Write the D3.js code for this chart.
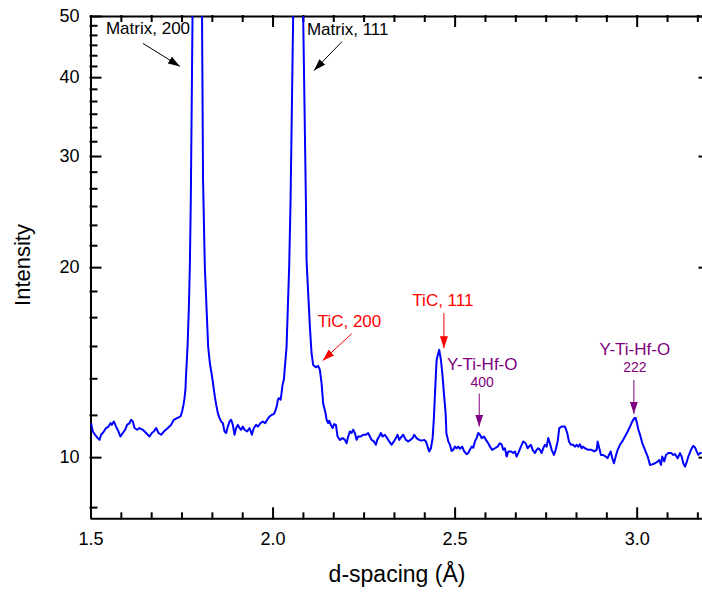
<!DOCTYPE html>
<html>
<head>
<meta charset="utf-8">
<script src="https://cdn.jsdelivr.net/npm/d3@7"></script>
<style>
  body { margin: 0; background: #fff; }
  svg { display: block; font-family: Arial, "Liberation Sans", sans-serif; }
  .axis path, .axis line { stroke: #000; stroke-width: 2px; }
  .axis text { font-size: 18px; fill: #000; font-family: Arial, "Liberation Sans", sans-serif; }
</style>
</head>
<body>
<svg id="chart" width="702" height="593"></svg>
<script>
// d-spacing (Å)
const dSpacing = [
  1.5016, 1.5063, 1.5126, 1.5201, 1.5247, 1.5291, 1.5365, 1.5429, 1.5495, 1.5549,
  1.5585, 1.5640, 1.5703, 1.5769, 1.5824, 1.5887, 1.5951, 1.6005, 1.6071, 1.6115,
  1.6162, 1.6209, 1.6280, 1.6346, 1.6437, 1.6527, 1.6621, 1.6684, 1.6739, 1.6802,
  1.6868, 1.6940, 1.7014, 1.7124, 1.7214, 1.7288, 1.7379, 1.7473, 1.7516, 1.7555,
  1.7582, 1.7610, 1.7618, 1.7665, 1.7700, 1.7728, 1.7755, 1.7802, 1.7934, 1.8063,
  1.8091, 1.8140, 1.8231, 1.8277, 1.8352, 1.8415, 1.8451, 1.8497, 1.8544, 1.8588,
  1.8635, 1.8681, 1.8725, 1.8772, 1.8819, 1.8863, 1.8909, 1.8956, 1.9000, 1.9047,
  1.9093, 1.9137, 1.9184, 1.9231, 1.9302, 1.9368, 1.9431, 1.9486, 1.9549, 1.9596,
  1.9670, 1.9734, 1.9797, 1.9852, 1.9918, 1.9981, 2.0036, 2.0071, 2.0118, 2.0146,
  2.0173, 2.0220, 2.0247, 2.0275, 2.0310, 2.0385, 2.0456, 2.0495, 2.0566, 2.0695,
  2.0841, 2.0915, 2.0934, 2.0978, 2.1025, 2.1071, 2.1115, 2.1190, 2.1253, 2.1299,
  2.1346, 2.1390, 2.1456, 2.1484, 2.1527, 2.1555, 2.1602, 2.1648, 2.1692, 2.1739,
  2.1786, 2.1849, 2.1923, 2.1986, 2.2033, 2.2077, 2.2124, 2.2170, 2.2214, 2.2261,
  2.2308, 2.2352, 2.2418, 2.2489, 2.2563, 2.2626, 2.2673, 2.2720, 2.2783, 2.2838,
  2.2874, 2.2929, 2.2975, 2.3022, 2.3085, 2.3148, 2.3203, 2.3269, 2.3332, 2.3387,
  2.3434, 2.3478, 2.3544, 2.3588, 2.3662, 2.3725, 2.3791, 2.3846, 2.3890, 2.3956,
  2.4027, 2.4093, 2.4165, 2.4212, 2.4258, 2.4302, 2.4349, 2.4396, 2.4431, 2.4459,
  2.4505, 2.4577, 2.4624, 2.4670, 2.4706, 2.4753, 2.4775, 2.4827, 2.4871, 2.4918,
  2.4962, 2.5008, 2.5055, 2.5099, 2.5146, 2.5209, 2.5264, 2.5330, 2.5374, 2.5420,
  2.5467, 2.5511, 2.5558, 2.5604, 2.5648, 2.5695, 2.5742, 2.5805, 2.5860, 2.5923,
  2.5970, 2.6033, 2.6107, 2.6181, 2.6244, 2.6291, 2.6335, 2.6382, 2.6429, 2.6473,
  2.6547, 2.6610, 2.6657, 2.6703, 2.6747, 2.6821, 2.6885, 2.6951, 2.7005, 2.7041,
  2.7096, 2.7143, 2.7206, 2.7253, 2.7297, 2.7343, 2.7390, 2.7434, 2.7481, 2.7527,
  2.7571, 2.7618, 2.7665, 2.7728, 2.7775, 2.7830, 2.7874, 2.7940, 2.8030, 2.8093,
  2.8140, 2.8195, 2.8258, 2.8305, 2.8352, 2.8396, 2.8442, 2.8489, 2.8533, 2.8580,
  2.8670, 2.8764, 2.8835, 2.8901, 2.8929, 2.8973, 2.9019, 2.9082, 2.9148, 2.9203,
  2.9239, 2.9286, 2.9330, 2.9376, 2.9423, 2.9478, 2.9541, 2.9604, 2.9679, 2.9753,
  2.9816, 2.9879, 2.9934, 2.9973, 3.0008, 3.0047, 3.0093, 3.0154, 3.0228, 3.0302,
  3.0366, 3.0429, 3.0503, 3.0577, 3.0621, 3.0668, 3.0703, 3.0758, 3.0805, 3.0868,
  3.0948, 3.1005, 3.1052, 3.1126, 3.1190, 3.1236, 3.1280, 3.1327, 3.1374, 3.1418,
  3.1492, 3.1555, 3.1602, 3.1648, 3.1692, 3.1739, 3.1786
];

// intensity at each d-spacing (the two matrix peaks run off the top)
const intensity = [
  11.32, 10.98, 10.85, 10.72, 10.65, 10.85, 10.98, 11.12, 11.18, 11.32,
  11.25, 11.39, 11.18, 10.98, 10.78, 10.92, 11.05, 11.25, 11.32, 11.46,
  11.39, 11.12, 11.05, 11.12, 11.05, 10.92, 10.78, 10.92, 10.98, 11.12,
  10.92, 10.85, 10.98, 11.12, 11.25, 11.46, 11.53, 11.60, 11.81, 12.11,
  12.40, 12.86, 13.26, 14.97, 17.12, 20.0, 25.6, 50, 200, 50,
  27.5, 20.0, 14.97, 14.11, 13.26, 12.47, 12.11, 11.74, 11.53, 11.39,
  11.32, 10.98, 10.92, 11.18, 11.39, 11.46, 11.25, 10.85, 11.12, 11.25,
  11.12, 11.05, 11.18, 11.05, 10.98, 11.12, 10.85, 11.12, 11.25, 11.18,
  11.32, 11.39, 11.32, 11.46, 11.60, 11.67, 11.70, 11.81, 12.06, 12.33,
  12.40, 12.33, 12.63, 13.02, 13.26, 14.97, 20.0, 25.6, 50, 260,
  50, 25.6, 20.5, 18.2, 16.1, 14.61, 14.0, 13.88, 13.95, 13.75,
  13.10, 12.16, 11.74, 11.46, 11.32, 11.42, 11.25, 11.12, 11.28, 11.25,
  10.78, 10.65, 10.72, 10.65, 10.52, 10.78, 10.98, 10.92, 11.05, 10.92,
  10.65, 10.78, 10.78, 10.85, 10.85, 10.92, 10.78, 10.65, 10.59, 10.46,
  10.65, 10.78, 10.92, 10.78, 10.85, 10.72, 10.59, 10.46, 10.59, 10.72,
  10.85, 10.65, 10.78, 10.85, 10.65, 10.59, 10.65, 10.72, 10.85, 10.72,
  10.65, 10.62, 10.65, 10.59, 10.39, 10.21, 10.33, 10.72, 11.53, 12.55,
  14.26, 14.79, 14.26, 13.42, 12.63, 11.74, 10.90, 10.59, 10.46, 10.23,
  10.27, 10.39, 10.33, 10.39, 10.31, 10.39, 10.21, 10.11, 10.15, 10.27,
  10.39, 10.35, 10.59, 10.72, 10.92, 10.85, 10.72, 10.78, 10.65, 10.52,
  10.39, 10.27, 10.33, 10.39, 10.52, 10.48, 10.27, 10.33, 10.02, 10.21,
  10.21, 10.15, 10.21, 10.02, 10.15, 10.39, 10.59, 10.52, 10.33, 10.39,
  10.46, 10.27, 10.15, 10.27, 10.33, 10.27, 10.15, 10.33, 10.46, 10.39,
  10.72, 10.52, 10.27, 10.08, 10.27, 10.59, 11.12, 11.18, 11.18, 10.92,
  10.59, 10.46, 10.46, 10.39, 10.46, 10.39, 10.48, 10.33, 10.39, 10.33,
  10.27, 10.27, 10.21, 10.27, 10.59, 10.33, 10.08, 10.08, 10.02, 9.96,
  10.08, 10.21, 9.96, 9.78, 10.02, 10.27, 10.46, 10.59, 10.78, 10.98,
  11.18, 11.39, 11.53, 11.53, 11.32, 11.05, 10.85, 10.52, 10.27, 10.02,
  9.72, 9.74, 9.78, 9.84, 9.90, 9.72, 10.02, 9.85, 10.08, 10.15,
  10.15, 10.08, 10.11, 9.96, 10.15, 10.02, 9.78, 9.66, 9.82, 10.02,
  10.27, 10.42, 10.36, 10.21, 10.08, 10.15, 10.15
];

const xMajorTicks = [1.5, 2.0, 2.5, 3.0];
const yMajorTicks = [10, 20, 30, 40, 50];

// peak labels: arrow tip in data units, text lines above it
const notes = [
  { lines: ["Matrix, 200"], d: 1.7457, i: 41.6, color: "#000", tail: [-37, -23], text: [-74, -32], anchor: "start" },
  { lines: ["Matrix, 111"], d: 2.1137, i: 40.97, color: "#000", tail: [28, -29], text: [-7, -36], anchor: "start" },
  { lines: ["TiC, 200"], d: 2.1376, i: 14.22, color: "#ff0000", tail: [29, -27], text: [-5, -34], anchor: "start" },
  { lines: ["TiC, 111"], d: 2.4706, i: 14.88, color: "#ff0000", tail: [0, -35], text: [-1, -42], anchor: "middle" },
  { lines: ["Y-Ti-Hf-O", "400"], d: 2.5676, i: 11.18, color: "#800080", tail: [0, -33], text: [3, -57], anchor: "middle" },
  { lines: ["Y-Ti-Hf-O", "222"], d: 2.9923, i: 11.71, color: "#800080", tail: [0, -34], text: [1, -59], anchor: "middle" }
];

const svg = d3.select("#chart");
const margin = { top: 16, left: 90.5 };
const plotW = 619;
const plotH = 502.3;

const x = d3.scaleLinear().domain([1.5, 3.2]).range([0, plotW]);
const y = d3.scaleLog().domain([8, 50]).range([plotH, 0]);

const g = svg.append("g").attr("transform", `translate(${margin.left},${margin.top})`);

g.append("defs").append("clipPath").attr("id", "plot-clip")
  .append("rect").attr("width", plotW).attr("height", plotH);

// five minor ticks between majors
const xMinor = d3.range(0, 21).map(k => 1.5 + k * 0.5 / 6).filter(v => v <= 3.2001 && !xMajorTicks.some(m => Math.abs(m - v) < 1e-6));
const yMinor = [8 + 1 / 3].concat(d3.range(1, 25).map(k => 10 + k * 10 / 6)).filter(v => v <= 50.001 && !yMajorTicks.some(m => Math.abs(m - v) < 1e-6));

function drawAxis(axis, transform, cls) {
  const a = g.append("g").attr("class", "axis " + (cls || "")).attr("transform", transform).call(axis);
  return a;
}

// bottom
drawAxis(d3.axisBottom(x).tickValues(xMajorTicks).tickSize(-10).tickSizeOuter(0).tickPadding(14).tickFormat(d3.format(".1f")), `translate(0,${plotH})`);
drawAxis(d3.axisBottom(x).tickValues(xMinor).tickSize(-5).tickFormat(""), `translate(0,${plotH})`, "minor");
// top
drawAxis(d3.axisTop(x).tickValues(xMajorTicks).tickSize(-10).tickSizeOuter(0).tickFormat(""), "translate(0,0)");
drawAxis(d3.axisTop(x).tickValues(xMinor).tickSize(-5).tickFormat(""), "translate(0,0)", "minor");
// left
drawAxis(d3.axisLeft(y).tickValues(yMajorTicks).tickSize(-10).tickSizeOuter(0).tickPadding(11).tickFormat(d3.format("d")), "translate(0,0)");
drawAxis(d3.axisLeft(y).tickValues(yMinor).tickSize(-6).tickFormat(""), "translate(0,0)", "minor");
// right
drawAxis(d3.axisRight(y).tickValues(yMajorTicks).tickSize(-10).tickSizeOuter(0).tickFormat(""), `translate(${plotW},0)`);
drawAxis(d3.axisRight(y).tickValues(yMinor).tickSize(-6).tickFormat(""), `translate(${plotW},0)`, "minor");

g.selectAll(".axis.minor path").remove();
g.selectAll(".axis line").attr("stroke-linecap", "square");

// the pattern
const line = d3.line()
  .x((d, k) => x(dSpacing[k]))
  .y((d, k) => y(intensity[k]));

g.append("path")
  .datum(intensity)
  .attr("clip-path", "url(#plot-clip)")
  .attr("fill", "none")
  .attr("stroke", "#0000ff")
  .attr("stroke-width", 2)
  .attr("stroke-linejoin", "round")
  .attr("d", line);

// arrow heads, one per colour
const defs = svg.append("defs");
const colors = Array.from(new Set(notes.map(n => n.color)));
colors.forEach((c, k) => {
  defs.append("marker")
    .attr("id", "arrow" + k)
    .attr("markerUnits", "userSpaceOnUse")
    .attr("markerWidth", 12).attr("markerHeight", 8)
    .attr("refX", 12).attr("refY", 4)
    .attr("orient", "auto")
    .append("path")
    .attr("d", "M0,0 L12,4 L0,8 Z")
    .attr("fill", c);
});

notes.forEach(n => {
  const tx = x(n.d), ty = y(n.i);
  g.append("line")
    .attr("x1", tx + n.tail[0]).attr("y1", ty + n.tail[1])
    .attr("x2", tx).attr("y2", ty)
    .attr("stroke", n.color)
    .attr("stroke-width", 1)
    .attr("marker-end", `url(#arrow${colors.indexOf(n.color)})`);

  n.lines.forEach((t, k) => {
    g.append("text")
      .attr("x", tx + n.text[0])
      .attr("y", ty + n.text[1] + k * 17)
      .attr("text-anchor", n.anchor)
      .attr("fill", n.color)
      .attr("font-size", k === 0 ? 17 : 14)
      .text(t);
  });
});

// axis titles
svg.append("text")
  .attr("x", 397).attr("y", 582)
  .attr("text-anchor", "middle")
  .attr("font-size", 23)
  .text("d-spacing (Å)");

svg.append("text")
  .attr("transform", "translate(30,265) rotate(-90)")
  .attr("text-anchor", "middle")
  .attr("font-size", 22)
  .text("Intensity");
</script>
</body>
</html>
